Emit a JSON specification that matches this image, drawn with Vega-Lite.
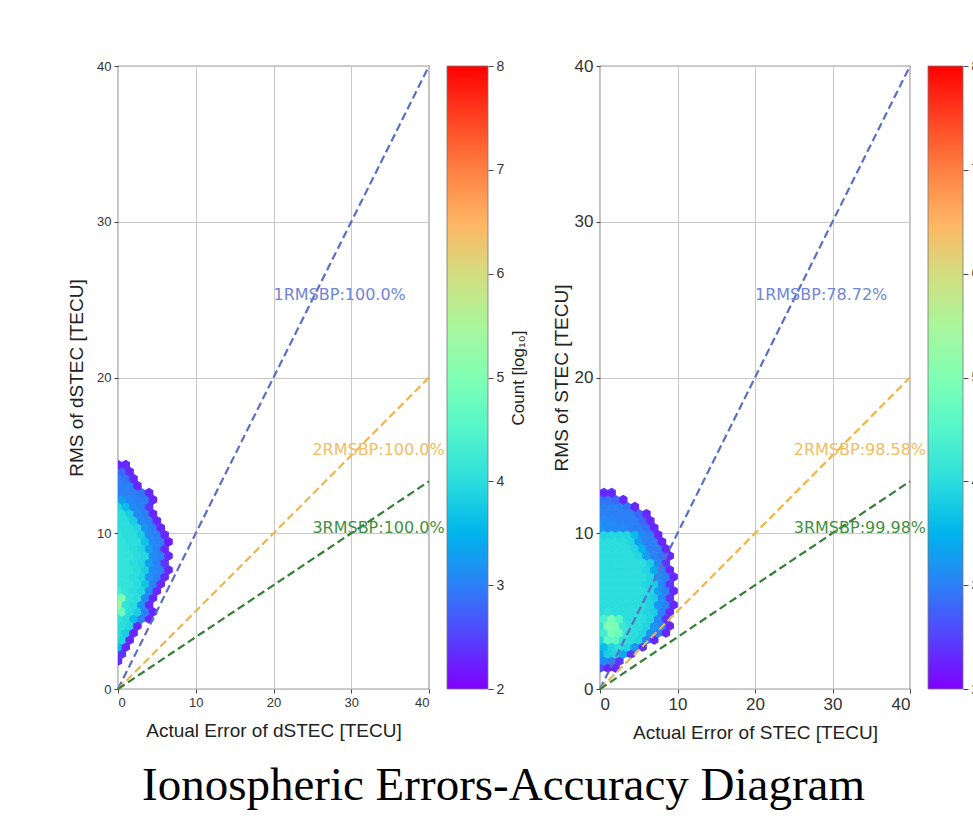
{
  "$schema": "https://vega.github.io/schema/vega-lite/v6.json",
  "padding": {"left": 66, "top": 56, "right": 5, "bottom": 5},
  "background": "white",
  "title": {"text": "Ionospheric Errors-Accuracy Diagram", "orient": "bottom", "anchor": "start", "frame": "group", "dx": 24, "offset": 20, "font": "Liberation Serif", "fontSize": 47, "fontWeight": "normal", "color": "#000000"},
  "datasets": {
    "hexL": [
      {"x":0,"y":1.8,"c":2.3},
      {"x":0.5,"y":2.25,"c":2.4},
      {"x":0,"y":2.7,"c":3.6},{"x":1,"y":2.7,"c":2.3},
      {"x":0.5,"y":3.15,"c":3.9},{"x":1.5,"y":3.15,"c":2.3},
      {"x":0,"y":3.6,"c":4.0},{"x":1,"y":3.6,"c":3.8},{"x":2,"y":3.6,"c":2.3},
      {"x":0.5,"y":4.05,"c":4.0},{"x":1.5,"y":4.05,"c":3.9},{"x":2.5,"y":4.05,"c":2.3},
      {"x":0,"y":4.5,"c":4.1},{"x":1,"y":4.5,"c":4.0},{"x":2,"y":4.5,"c":3.6},{"x":3,"y":4.5,"c":3.0},{"x":4,"y":4.5,"c":2.3},
      {"x":0.5,"y":4.95,"c":4.8},{"x":1.5,"y":4.95,"c":4.0},{"x":2.5,"y":4.95,"c":3.8},{"x":3.5,"y":4.95,"c":3.0},{"x":4.5,"y":4.95,"c":2.3},
      {"x":0,"y":5.4,"c":5.5},{"x":1,"y":5.4,"c":4.1},{"x":2,"y":5.4,"c":4.0},{"x":3,"y":5.4,"c":3.2},{"x":4,"y":5.4,"c":2.3},
      {"x":0.5,"y":5.85,"c":5.0},{"x":1.5,"y":5.85,"c":4.1},{"x":2.5,"y":5.85,"c":4.0},{"x":3.5,"y":5.85,"c":3.1},{"x":4.5,"y":5.85,"c":2.3},
      {"x":0,"y":6.3,"c":4.3},{"x":1,"y":6.3,"c":4.1},{"x":2,"y":6.3,"c":4.0},{"x":3,"y":6.3,"c":3.9},{"x":4,"y":6.3,"c":3.1},{"x":5,"y":6.3,"c":2.3},
      {"x":0.5,"y":6.75,"c":4.1},{"x":1.5,"y":6.75,"c":4.1},{"x":2.5,"y":6.75,"c":4.0},{"x":3.5,"y":6.75,"c":3.7},{"x":4.5,"y":6.75,"c":3.0},{"x":5.5,"y":6.75,"c":2.3},
      {"x":0,"y":7.2,"c":4.1},{"x":1,"y":7.2,"c":4.1},{"x":2,"y":7.2,"c":4.0},{"x":3,"y":7.2,"c":3.9},{"x":4,"y":7.2,"c":3.2},{"x":5,"y":7.2,"c":3.0},{"x":6,"y":7.2,"c":2.3},
      {"x":0.5,"y":7.65,"c":4.1},{"x":1.5,"y":7.65,"c":4.1},{"x":2.5,"y":7.65,"c":4.0},{"x":3.5,"y":7.65,"c":3.8},{"x":4.5,"y":7.65,"c":3.1},{"x":5.5,"y":7.65,"c":3.0},{"x":6.5,"y":7.65,"c":2.3},
      {"x":0,"y":8.1,"c":4.1},{"x":1,"y":8.1,"c":4.1},{"x":2,"y":8.1,"c":4.0},{"x":3,"y":8.1,"c":3.9},{"x":4,"y":8.1,"c":3.3},{"x":5,"y":8.1,"c":3.0},{"x":6,"y":8.1,"c":2.4},
      {"x":0.5,"y":8.55,"c":4.1},{"x":1.5,"y":8.55,"c":4.1},{"x":2.5,"y":8.55,"c":4.0},{"x":3.5,"y":8.55,"c":3.9},{"x":4.5,"y":8.55,"c":3.1},{"x":5.5,"y":8.55,"c":3.0},{"x":6.5,"y":8.55,"c":2.3},
      {"x":0,"y":9.0,"c":4.1},{"x":1,"y":9.0,"c":4.1},{"x":2,"y":9.0,"c":4.0},{"x":3,"y":9.0,"c":3.9},{"x":4,"y":9.0,"c":3.3},{"x":5,"y":9.0,"c":3.0},{"x":6,"y":9.0,"c":2.3},
      {"x":0.5,"y":9.45,"c":4.1},{"x":1.5,"y":9.45,"c":4.0},{"x":2.5,"y":9.45,"c":4.0},{"x":3.5,"y":9.45,"c":3.7},{"x":4.5,"y":9.45,"c":3.1},{"x":5.5,"y":9.45,"c":3.0},{"x":6.5,"y":9.45,"c":2.2},
      {"x":0,"y":9.9,"c":4.1},{"x":1,"y":9.9,"c":4.0},{"x":2,"y":9.9,"c":4.0},{"x":3,"y":9.9,"c":3.8},{"x":4,"y":9.9,"c":3.1},{"x":5,"y":9.9,"c":3.0},{"x":6,"y":9.9,"c":2.3},
      {"x":0.5,"y":10.35,"c":4.0},{"x":1.5,"y":10.35,"c":4.0},{"x":2.5,"y":10.35,"c":3.9},{"x":3.5,"y":10.35,"c":3.2},{"x":4.5,"y":10.35,"c":3.0},{"x":5.5,"y":10.35,"c":2.3},
      {"x":0,"y":10.8,"c":4.0},{"x":1,"y":10.8,"c":4.0},{"x":2,"y":10.8,"c":3.8},{"x":3,"y":10.8,"c":3.1},{"x":4,"y":10.8,"c":3.0},{"x":5,"y":10.8,"c":2.3},
      {"x":0.5,"y":11.25,"c":4.0},{"x":1.5,"y":11.25,"c":3.8},{"x":2.5,"y":11.25,"c":3.1},{"x":3.5,"y":11.25,"c":3.0},{"x":4.5,"y":11.25,"c":2.3},
      {"x":0,"y":11.7,"c":3.9},{"x":1,"y":11.7,"c":3.6},{"x":2,"y":11.7,"c":3.1},{"x":3,"y":11.7,"c":3.0},{"x":4,"y":11.7,"c":2.4},
      {"x":0.5,"y":12.15,"c":3.3},{"x":1.5,"y":12.15,"c":3.1},{"x":2.5,"y":12.15,"c":3.0},{"x":3.5,"y":12.15,"c":3.0},{"x":4.5,"y":12.15,"c":2.3},
      {"x":0,"y":12.6,"c":3.0},{"x":1,"y":12.6,"c":3.0},{"x":2,"y":12.6,"c":3.0},{"x":3,"y":12.6,"c":2.9},{"x":4,"y":12.6,"c":2.3},
      {"x":0.5,"y":13.05,"c":3.0},{"x":1.5,"y":13.05,"c":3.0},{"x":2.5,"y":13.05,"c":2.3},
      {"x":0,"y":13.5,"c":3.0},{"x":1,"y":13.5,"c":2.9},{"x":2,"y":13.5,"c":2.3},
      {"x":0.5,"y":13.95,"c":2.8},{"x":1.5,"y":13.95,"c":2.3},
      {"x":0,"y":14.4,"c":2.3},{"x":1,"y":14.4,"c":2.3}
    ],
    "hexR": [
      {"x":0,"y":1.35,"c":2.6},{"x":1,"y":1.35,"c":2.3},{"x":2,"y":1.35,"c":2.3},
      {"x":0.5,"y":1.8,"c":3.1},{"x":1.5,"y":1.8,"c":3.0},{"x":2.5,"y":1.8,"c":2.4},
      {"x":0,"y":2.25,"c":3.3},{"x":1,"y":2.25,"c":3.8},{"x":2,"y":2.25,"c":3.9},{"x":3,"y":2.25,"c":3.4},{"x":4,"y":2.25,"c":2.4},
      {"x":0.5,"y":2.7,"c":3.6},{"x":1.5,"y":2.7,"c":3.9},{"x":2.5,"y":2.7,"c":4.0},{"x":3.5,"y":2.7,"c":3.9},{"x":4.5,"y":2.7,"c":3.2},{"x":5.5,"y":2.7,"c":2.4},
      {"x":0,"y":3.15,"c":3.9},{"x":1,"y":3.15,"c":4.6},{"x":2,"y":3.15,"c":4.6},{"x":3,"y":3.15,"c":4.1},{"x":4,"y":3.15,"c":4.0},{"x":5,"y":3.15,"c":3.9},{"x":6,"y":3.15,"c":3.0},{"x":7,"y":3.15,"c":2.3},
      {"x":0.5,"y":3.6,"c":4.3},{"x":1.5,"y":3.6,"c":4.9},{"x":2.5,"y":3.6,"c":4.7},{"x":3.5,"y":3.6,"c":4.1},{"x":4.5,"y":3.6,"c":4.0},{"x":5.5,"y":3.6,"c":3.9},{"x":6.5,"y":3.6,"c":3.2},{"x":7.5,"y":3.6,"c":3.0},{"x":8.5,"y":3.6,"c":2.3},
      {"x":0,"y":4.05,"c":4.1},{"x":1,"y":4.05,"c":5.0},{"x":2,"y":4.05,"c":4.9},{"x":3,"y":4.05,"c":4.2},{"x":4,"y":4.05,"c":4.0},{"x":5,"y":4.05,"c":4.0},{"x":6,"y":4.05,"c":3.9},{"x":7,"y":4.05,"c":3.2},{"x":8,"y":4.05,"c":3.0},{"x":9,"y":4.05,"c":2.3},
      {"x":0.5,"y":4.5,"c":4.4},{"x":1.5,"y":4.5,"c":4.9},{"x":2.5,"y":4.5,"c":4.5},{"x":3.5,"y":4.5,"c":4.0},{"x":4.5,"y":4.5,"c":4.0},{"x":5.5,"y":4.5,"c":4.0},{"x":6.5,"y":4.5,"c":3.9},{"x":7.5,"y":4.5,"c":3.1},{"x":8.5,"y":4.5,"c":2.4},
      {"x":0,"y":4.95,"c":4.0},{"x":1,"y":4.95,"c":4.1},{"x":2,"y":4.95,"c":4.0},{"x":3,"y":4.95,"c":4.0},{"x":4,"y":4.95,"c":4.0},{"x":5,"y":4.95,"c":4.0},{"x":6,"y":4.95,"c":3.9},{"x":7,"y":4.95,"c":3.8},{"x":8,"y":4.95,"c":3.0},{"x":9,"y":4.95,"c":2.3},
      {"x":0.5,"y":5.4,"c":4.0},{"x":1.5,"y":5.4,"c":4.0},{"x":2.5,"y":5.4,"c":4.0},{"x":3.5,"y":5.4,"c":4.0},{"x":4.5,"y":5.4,"c":4.0},{"x":5.5,"y":5.4,"c":4.0},{"x":6.5,"y":5.4,"c":3.9},{"x":7.5,"y":5.4,"c":3.2},{"x":8.5,"y":5.4,"c":3.0},{"x":9.5,"y":5.4,"c":2.3},
      {"x":0,"y":5.85,"c":4.0},{"x":1,"y":5.85,"c":4.0},{"x":2,"y":5.85,"c":4.0},{"x":3,"y":5.85,"c":4.0},{"x":4,"y":5.85,"c":4.0},{"x":5,"y":5.85,"c":4.0},{"x":6,"y":5.85,"c":3.9},{"x":7,"y":5.85,"c":3.8},{"x":8,"y":5.85,"c":3.1},{"x":9,"y":5.85,"c":2.4},
      {"x":0.5,"y":6.3,"c":4.0},{"x":1.5,"y":6.3,"c":4.0},{"x":2.5,"y":6.3,"c":4.0},{"x":3.5,"y":6.3,"c":4.0},{"x":4.5,"y":6.3,"c":4.0},{"x":5.5,"y":6.3,"c":4.0},{"x":6.5,"y":6.3,"c":3.9},{"x":7.5,"y":6.3,"c":3.3},{"x":8.5,"y":6.3,"c":3.0},{"x":9.5,"y":6.3,"c":2.3},
      {"x":0,"y":6.75,"c":4.0},{"x":1,"y":6.75,"c":4.0},{"x":2,"y":6.75,"c":4.0},{"x":3,"y":6.75,"c":4.0},{"x":4,"y":6.75,"c":4.0},{"x":5,"y":6.75,"c":4.0},{"x":6,"y":6.75,"c":3.9},{"x":7,"y":6.75,"c":3.8},{"x":8,"y":6.75,"c":3.1},{"x":9,"y":6.75,"c":2.4},
      {"x":0.5,"y":7.2,"c":4.0},{"x":1.5,"y":7.2,"c":4.0},{"x":2.5,"y":7.2,"c":4.0},{"x":3.5,"y":7.2,"c":4.0},{"x":4.5,"y":7.2,"c":4.0},{"x":5.5,"y":7.2,"c":4.0},{"x":6.5,"y":7.2,"c":3.9},{"x":7.5,"y":7.2,"c":3.2},{"x":8.5,"y":7.2,"c":3.0},{"x":9.5,"y":7.2,"c":2.3},
      {"x":0,"y":7.65,"c":4.0},{"x":1,"y":7.65,"c":4.0},{"x":2,"y":7.65,"c":4.0},{"x":3,"y":7.65,"c":4.0},{"x":4,"y":7.65,"c":4.0},{"x":5,"y":7.65,"c":4.0},{"x":6,"y":7.65,"c":3.9},{"x":7,"y":7.65,"c":3.4},{"x":8,"y":7.65,"c":3.0},{"x":9,"y":7.65,"c":2.3},
      {"x":0.5,"y":8.1,"c":4.0},{"x":1.5,"y":8.1,"c":4.0},{"x":2.5,"y":8.1,"c":4.0},{"x":3.5,"y":8.1,"c":4.0},{"x":4.5,"y":8.1,"c":4.0},{"x":5.5,"y":8.1,"c":4.0},{"x":6.5,"y":8.1,"c":3.8},{"x":7.5,"y":8.1,"c":3.1},{"x":8.5,"y":8.1,"c":2.4},
      {"x":0,"y":8.55,"c":4.0},{"x":1,"y":8.55,"c":4.0},{"x":2,"y":8.55,"c":4.0},{"x":3,"y":8.55,"c":4.0},{"x":4,"y":8.55,"c":4.0},{"x":5,"y":8.55,"c":3.9},{"x":6,"y":8.55,"c":3.3},{"x":7,"y":8.55,"c":3.0},{"x":8,"y":8.55,"c":2.9},{"x":9,"y":8.55,"c":2.3},
      {"x":0.5,"y":9.0,"c":4.0},{"x":1.5,"y":9.0,"c":4.0},{"x":2.5,"y":9.0,"c":4.0},{"x":3.5,"y":9.0,"c":4.0},{"x":4.5,"y":9.0,"c":3.9},{"x":5.5,"y":9.0,"c":3.5},{"x":6.5,"y":9.0,"c":3.0},{"x":7.5,"y":9.0,"c":3.0},{"x":8.5,"y":9.0,"c":2.3},
      {"x":0,"y":9.45,"c":4.0},{"x":1,"y":9.45,"c":4.0},{"x":2,"y":9.45,"c":4.0},{"x":3,"y":9.45,"c":4.0},{"x":4,"y":9.45,"c":3.9},{"x":5,"y":9.45,"c":3.3},{"x":6,"y":9.45,"c":3.0},{"x":7,"y":9.45,"c":3.0},{"x":8,"y":9.45,"c":2.3},
      {"x":0.5,"y":9.9,"c":3.9},{"x":1.5,"y":9.9,"c":3.9},{"x":2.5,"y":9.9,"c":3.9},{"x":3.5,"y":9.9,"c":3.9},{"x":4.5,"y":9.9,"c":3.6},{"x":5.5,"y":9.9,"c":3.1},{"x":6.5,"y":9.9,"c":3.0},{"x":7.5,"y":9.9,"c":2.3},
      {"x":0,"y":10.35,"c":3.2},{"x":1,"y":10.35,"c":3.1},{"x":2,"y":10.35,"c":3.1},{"x":3,"y":10.35,"c":3.1},{"x":4,"y":10.35,"c":3.0},{"x":5,"y":10.35,"c":3.0},{"x":6,"y":10.35,"c":2.9},{"x":7,"y":10.35,"c":2.3},
      {"x":0.5,"y":10.8,"c":3.1},{"x":1.5,"y":10.8,"c":3.1},{"x":2.5,"y":10.8,"c":3.0},{"x":3.5,"y":10.8,"c":3.0},{"x":4.5,"y":10.8,"c":3.0},{"x":5.5,"y":10.8,"c":2.8},{"x":6.5,"y":10.8,"c":2.3},
      {"x":0,"y":11.25,"c":3.0},{"x":1,"y":11.25,"c":3.0},{"x":2,"y":11.25,"c":3.0},{"x":3,"y":11.25,"c":3.0},{"x":4,"y":11.25,"c":3.0},{"x":5,"y":11.25,"c":2.8},{"x":6,"y":11.25,"c":2.3},
      {"x":0.5,"y":11.7,"c":3.0},{"x":1.5,"y":11.7,"c":3.0},{"x":2.5,"y":11.7,"c":3.0},{"x":3.5,"y":11.7,"c":2.9},{"x":4.5,"y":11.7,"c":2.3},
      {"x":0,"y":12.15,"c":2.9},{"x":1,"y":12.15,"c":2.9},{"x":2,"y":12.15,"c":2.8},{"x":3,"y":12.15,"c":2.3},
      {"x":0.5,"y":12.6,"c":2.3},{"x":1.5,"y":12.6,"c":2.3}
    ],
    "lines": [
      {"k":"1","x":0,"y":0},{"k":"1","x":40,"y":40},
      {"k":"2","x":0,"y":0},{"k":"2","x":40,"y":20},
      {"k":"3","x":0,"y":0},{"k":"3","x":40,"y":13.333}
    ],
    "labL": [
      {"k":"1","x":20,"y":25,"t":"1RMSBP:100.0%"},
      {"k":"2","x":25,"y":15,"t":"2RMSBP:100.0%"},
      {"k":"3","x":25,"y":10,"t":"3RMSBP:100.0%"}
    ],
    "labR": [
      {"k":"1","x":20,"y":25,"t":"1RMSBP:78.72%"},
      {"k":"2","x":25,"y":15,"t":"2RMSBP:98.58%"},
      {"k":"3","x":25,"y":10,"t":"3RMSBP:99.98%"}
    ],
    "cbar": [{"a":0,"b":1,"lo":2,"hi":8}],
    "none": []
  },
  "bounds": "flush",
  "spacing": 18,
  "hconcat": [
    {
      "width": 311, "height": 623,
      "layer": [
        {
          "data": {"name": "hexL"},
          "mark": {"type": "point", "shape": "M0,-1L0.866,-0.5L0.866,0.5L0,1L-0.866,0.5L-0.866,-0.5Z", "filled": true, "opacity": 1, "size": 96, "clip": true},
          "encoding": {
            "x": {"field": "x", "type": "quantitative", "scale": {"domain": [0, 40], "nice": false, "zero": false}, "axis": {"title": "Actual Error of dSTEC [TECU]", "values": [0, 10, 20, 30, 40], "labelFontSize": 13, "titleFontSize": 19, "titlePadding": 12}},
            "y": {"field": "y", "type": "quantitative", "scale": {"domain": [0, 40], "nice": false, "zero": false}, "axis": {"title": "RMS of dSTEC [TECU]", "values": [0, 10, 20, 30, 40], "labelFontSize": 13, "titleFontSize": 19, "titlePadding": 10}},
            "color": {"field": "c", "type": "quantitative", "scale": {"domain": [2, 2.5, 3, 3.5, 4, 4.5, 5, 5.5, 6, 6.5, 7, 7.5, 8], "range": ["#8000ff", "#5542fd", "#2b80f6", "#00b4ec", "#2bdddd", "#55f6ca", "#80ffb4", "#aaf69b", "#d4dd80", "#ffb462", "#ff8042", "#ff4221", "#ff0000"], "interpolate": "rgb"}, "legend": null}
          }
        },
        {
          "data": {"name": "lines"},
          "mark": {"type": "line", "strokeDash": [8, 4], "strokeWidth": 2.2},
          "encoding": {
            "x": {"field": "x", "type": "quantitative"},
            "y": {"field": "y", "type": "quantitative"},
            "color": {"field": "k", "type": "nominal", "scale": {"domain": ["1", "2", "3"], "range": ["#5a6fc4", "#f2b544", "#357f35"]}, "legend": null}
          }
        },
        {
          "data": {"name": "labL"},
          "mark": {"type": "text", "align": "left", "baseline": "alphabetic", "font": "DejaVu Sans", "fontSize": 16},
          "encoding": {
            "x": {"field": "x", "type": "quantitative"},
            "y": {"field": "y", "type": "quantitative"},
            "text": {"field": "t"},
            "color": {"field": "k", "type": "nominal", "scale": {"domain": ["1", "2", "3"], "range": ["#7085d6", "#f4bc62", "#3f8f3f"]}, "legend": null}
          }
        }
      ],
      "resolve": {"scale": {"color": "independent"}}
    },
    {
      "width": 41, "height": 623,
      "view": {"stroke": null},
      "data": {"name": "cbar"},
      "mark": {"type": "rect", "fill": {"gradient": "linear", "x1": 0, "y1": 1, "x2": 0, "y2": 0, "stops": [
        {"offset": 0, "color": "#8000ff"}, {"offset": 0.0833, "color": "#5542fd"}, {"offset": 0.1667, "color": "#2b80f6"}, {"offset": 0.25, "color": "#00b4ec"}, {"offset": 0.3333, "color": "#2bdddd"}, {"offset": 0.4167, "color": "#55f6ca"}, {"offset": 0.5, "color": "#80ffb4"}, {"offset": 0.5833, "color": "#aaf69b"}, {"offset": 0.6667, "color": "#d4dd80"}, {"offset": 0.75, "color": "#ffb462"}, {"offset": 0.8333, "color": "#ff8042"}, {"offset": 0.9167, "color": "#ff4221"}, {"offset": 1, "color": "#ff0000"}]}, "stroke": "#777777", "strokeWidth": 0.8},
      "encoding": {
        "x": {"field": "a", "type": "quantitative", "scale": {"domain": [0, 1]}, "axis": null},
        "x2": {"field": "b"},
        "y": {"field": "lo", "type": "quantitative", "scale": {"domain": [2, 8], "nice": false, "zero": false}, "axis": {"orient": "right", "values": [2, 3, 4, 5, 6, 7, 8], "grid": false, "title": "Count [log₁₀]", "titleAngle": 270, "titleBaseline": "top", "labelFontSize": 14, "titleFontSize": 17, "titlePadding": 7, "tickSize": 5}},
        "y2": {"field": "hi"}
      }
    },
    {
      "width": 76, "height": 623,
      "view": {"stroke": null},
      "data": {"name": "none"},
      "mark": "point",
      "encoding": {}
    },
    {
      "width": 310, "height": 623,
      "layer": [
        {
          "data": {"name": "hexR"},
          "mark": {"type": "point", "shape": "M0,-1L0.866,-0.5L0.866,0.5L0,1L-0.866,0.5L-0.866,-0.5Z", "filled": true, "opacity": 1, "size": 96, "clip": true},
          "encoding": {
            "x": {"field": "x", "type": "quantitative", "scale": {"domain": [0, 40], "nice": false, "zero": false}, "axis": {"title": "Actual Error of STEC [TECU]", "values": [0, 10, 20, 30, 40], "labelFontSize": 17, "titleFontSize": 19, "titlePadding": 11}},
            "y": {"field": "y", "type": "quantitative", "scale": {"domain": [0, 40], "nice": false, "zero": false}, "axis": {"title": "RMS of STEC [TECU]", "values": [0, 10, 20, 30, 40], "labelFontSize": 17, "titleFontSize": 19, "titlePadding": 3}},
            "color": {"field": "c", "type": "quantitative", "scale": {"domain": [2, 2.5, 3, 3.5, 4, 4.5, 5, 5.5, 6, 6.5, 7, 7.5, 8], "range": ["#8000ff", "#5542fd", "#2b80f6", "#00b4ec", "#2bdddd", "#55f6ca", "#80ffb4", "#aaf69b", "#d4dd80", "#ffb462", "#ff8042", "#ff4221", "#ff0000"], "interpolate": "rgb"}, "legend": null}
          }
        },
        {
          "data": {"name": "lines"},
          "mark": {"type": "line", "strokeDash": [8, 4], "strokeWidth": 2.2},
          "encoding": {
            "x": {"field": "x", "type": "quantitative"},
            "y": {"field": "y", "type": "quantitative"},
            "color": {"field": "k", "type": "nominal", "scale": {"domain": ["1", "2", "3"], "range": ["#5a6fc4", "#f2b544", "#357f35"]}, "legend": null}
          }
        },
        {
          "data": {"name": "labR"},
          "mark": {"type": "text", "align": "left", "baseline": "alphabetic", "font": "DejaVu Sans", "fontSize": 16},
          "encoding": {
            "x": {"field": "x", "type": "quantitative"},
            "y": {"field": "y", "type": "quantitative"},
            "text": {"field": "t"},
            "color": {"field": "k", "type": "nominal", "scale": {"domain": ["1", "2", "3"], "range": ["#7085d6", "#f4bc62", "#3f8f3f"]}, "legend": null}
          }
        }
      ],
      "resolve": {"scale": {"color": "independent"}}
    },
    {
      "width": 35, "height": 623,
      "view": {"stroke": null},
      "data": {"name": "cbar"},
      "mark": {"type": "rect", "fill": {"gradient": "linear", "x1": 0, "y1": 1, "x2": 0, "y2": 0, "stops": [
        {"offset": 0, "color": "#8000ff"}, {"offset": 0.0833, "color": "#5542fd"}, {"offset": 0.1667, "color": "#2b80f6"}, {"offset": 0.25, "color": "#00b4ec"}, {"offset": 0.3333, "color": "#2bdddd"}, {"offset": 0.4167, "color": "#55f6ca"}, {"offset": 0.5, "color": "#80ffb4"}, {"offset": 0.5833, "color": "#aaf69b"}, {"offset": 0.6667, "color": "#d4dd80"}, {"offset": 0.75, "color": "#ffb462"}, {"offset": 0.8333, "color": "#ff8042"}, {"offset": 0.9167, "color": "#ff4221"}, {"offset": 1, "color": "#ff0000"}]}, "stroke": "#777777", "strokeWidth": 0.8},
      "encoding": {
        "x": {"field": "a", "type": "quantitative", "scale": {"domain": [0, 1]}, "axis": null},
        "x2": {"field": "b"},
        "y": {"field": "lo", "type": "quantitative", "scale": {"domain": [2, 8], "nice": false, "zero": false}, "axis": {"orient": "right", "values": [2, 3, 4, 5, 6, 7, 8], "grid": false, "title": "Count [log₁₀]", "titleAngle": 270, "titleBaseline": "top", "labelFontSize": 14, "titleFontSize": 17, "titlePadding": 7, "tickSize": 5}},
        "y2": {"field": "hi"}
      }
    }
  ],
  "config": {
    "view": {"stroke": "#3a3a3a", "strokeWidth": 1.2},
    "font": "Liberation Sans",
    "axis": {"domain": false, "grid": true, "gridColor": "#c8c8c8", "gridWidth": 1, "tickColor": "#444444", "tickSize": 4, "labelColor": "#333333", "titleColor": "#222222", "labelFont": "Liberation Sans", "titleFont": "Liberation Sans", "titleFontWeight": "normal", "labelPadding": 3}
  }
}
